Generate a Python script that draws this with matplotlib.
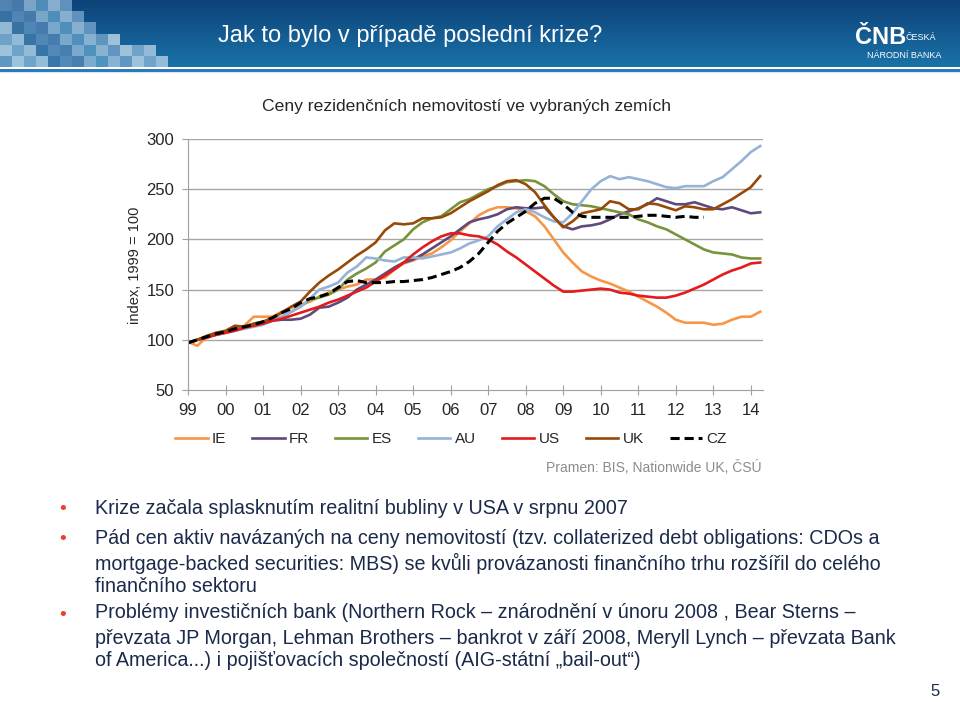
import numpy as np
import matplotlib
matplotlib.use("Agg")
import matplotlib.pyplot as plt
from matplotlib.patches import Rectangle
from matplotlib.colors import LinearSegmentedColormap

plt.rcParams['font.family'] = ['Liberation Sans', 'DejaVu Sans']

# quarterly house price indices, 1999Q1 = first point, 1999 = 100
year_labels = ["99", "00", "01", "02", "03", "04", "05", "06", "07",
               "08", "09", "10", "11", "12", "13", "14"]

ie = [98, 94, 103, 107, 108, 112, 114, 123, 123, 123, 128, 132,
      135, 138, 143, 147, 150, 153, 155, 160, 160, 162, 170, 176,
      179, 183, 186, 192, 199, 208, 216, 224, 229, 232, 232, 231,
      228, 223, 213, 200, 187, 177, 168, 163, 159, 156, 152, 148,
      143, 138, 133, 127, 120, 117, 117, 117, 115, 116, 120, 123,
      123, 128]
fr = [97, 100, 103, 105, 107, 110, 112, 115, 117, 119, 120, 120,
      121, 125, 132, 133, 137, 142, 150, 155, 160, 166, 172, 177,
      180, 185, 191, 197, 203, 210, 217, 220, 222, 225, 230, 232,
      231, 231, 232, 222, 213, 210, 213, 214, 216, 220, 225, 228,
      231, 235, 241, 238, 235, 235, 237, 234, 231, 230, 232, 229,
      226, 227]
es = [97, 100, 103, 106, 108, 111, 113, 116, 118, 120, 123, 128,
      133, 140, 142, 145, 150, 160, 166, 171, 177, 188, 194, 200,
      210, 217, 221, 223, 230, 237, 240, 245, 250, 253, 257, 258,
      259, 258, 253, 245, 238, 235, 234, 233, 231, 229, 227, 225,
      220, 217, 213, 210, 205, 200, 195, 190, 187, 186, 185, 182,
      181, 181]
au = [97, 100, 103, 105, 107, 109, 111, 113, 115, 119, 123, 128,
      133, 141, 150, 153, 157, 167, 173, 182, 181, 179, 178, 182,
      182, 181, 183, 185, 187, 191, 196, 199, 203, 213, 220, 227,
      230, 227, 222, 218, 217, 226, 238, 250, 258, 263, 260, 262,
      260, 258, 255, 252, 251, 253, 253, 253, 258, 262, 270, 278,
      287, 293]
us = [97, 100, 102, 105, 107, 109, 112, 114, 116, 119, 121, 124,
      127, 130, 133, 137, 140, 144, 148, 152, 158, 164, 170, 177,
      185, 192, 198, 203, 206, 206, 204, 203, 200, 195, 188, 182,
      175, 168, 161, 154, 148, 148, 149, 150, 151, 150, 147, 146,
      144, 143, 142, 142, 144, 147, 151, 155, 160, 165, 169, 172,
      176, 177]
uk = [97, 100, 104, 107, 109, 114, 113, 116, 118, 122, 127, 133,
      138, 148, 157, 164, 170, 177, 184, 190, 197, 209, 216, 215,
      216, 221, 221, 222, 226, 232, 238, 243, 248, 254, 258, 259,
      255, 247, 234, 222, 212, 218, 226, 228, 230, 238, 236, 230,
      230, 236, 235, 232, 229, 233, 232, 230, 230, 235, 240, 246,
      252, 263]
cz = [97, 100, 103, 106, 108, 111, 113, 115, 118, 122, 127, 131,
      137, 141, 143, 146, 152, 158, 159, 157, 157, 157, 158, 158,
      159, 160, 162, 165, 168, 172, 178, 186, 197, 208, 216, 222,
      228, 236, 241, 241, 235, 227, 223, 222, 222, 222, 222, 222,
      223, 224, 224, 223, 222, 223, 222, 222]

series = [("IE", ie, "#F79646", "-"), ("FR", fr, "#5F497A", "-"),
          ("ES", es, "#77933C", "-"), ("AU", au, "#95B3D7", "-"),
          ("US", us, "#E41A1C", "-"), ("UK", uk, "#984807", "-"),
          ("CZ", cz, "black", "--")]

bullets = [
    ["Krize začala splasknutím realitní bubliny v USA v srpnu 2007"],
    ["Pád cen aktiv navázaných na ceny nemovitostí (tzv. collaterized debt obligations: CDOs a",
     "mortgage-backed securities: MBS) se kvůli provázanosti finančního trhu rozšířil do celého",
     "finančního sektoru"],
    ["Problémy investičních bank (Northern Rock – znárodnění v únoru 2008 , Bear Sterns –",
     "převzata JP Morgan, Lehman Brothers – bankrot v září 2008, Meryll Lynch – převzata Bank",
     "of America...) i pojišťovacích společností (AIG-státní „bail-out“)"],
]

fig = plt.figure(figsize=(9.6, 7.02), dpi=100)

# background layer in pixel coordinates
bg = fig.add_axes([0, 0, 1, 1], zorder=0)
cmap = LinearSegmentedColormap.from_list("banner", ["#0D4379", "#1A72A8"])
grad = np.linspace(0, 1, 100).reshape(-1, 1)
bg.imshow(grad, extent=(0, 960, 67, 0), cmap=cmap, aspect="auto")

# pixel mosaic at top left
mosaic_cols = ["#5C8FBD", "#7FAED2", "#9CC0DC", "#4F83B3", "#A9CBE2",
               "#6E9FC8", "#8DB6D6", "#3F78AA", "#B5D3E6", "#5A9AC4"]
row_cells = [6, 7, 8, 10, 13, 14]
for r, n in enumerate(row_cells):
    for c in range(n):
        col = mosaic_cols[(r * 7 + c * 3) % len(mosaic_cols)]
        bg.add_patch(Rectangle((c * 12, r * 11.2), 12, 11.2, color=col, lw=0, alpha=0.85))

bg.add_patch(Rectangle((0, 69), 960, 2.8, color="#2B7BB9", lw=0))
bg.add_patch(Rectangle((0, 72), 960, 1.2, color="#D6E6F2", lw=0))

bg.text(218, 36, "Jak to bylo v případě poslední krize?", color="white",
        fontsize=17, va="center", ha="left")
bg.text(855, 44, "ČNB", color="white", fontsize=17, fontweight="bold", va="baseline")
bg.text(905, 40, "ČESKÁ", color="white", fontsize=6.5, va="baseline")
bg.text(867, 58, "NÁRODNÍ BANKA", color="white", fontsize=6.5, va="baseline")

bg.text(467, 106, "Ceny rezidenčních nemovitostí ve vybraných zemích",
        ha="center", va="center", fontsize=12.6, color="#262626")
bg.text(135, 265, "index, 1999 = 100", rotation=90, ha="center", va="center",
        fontsize=10.5, color="#262626")
bg.text(762, 467, "Pramen: BIS, Nationwide UK, ČSÚ", ha="right", va="center",
        fontsize=10, color="#8C8C8C")

line_y = [[508], [538, 563, 587], [613, 638, 661]]
for para, ys in zip(bullets, line_y):
    bg.text(63, ys[0] + 2, "•", color="#E8412C", fontsize=14, ha="center", va="center")
    for txt, y in zip(para, ys):
        bg.text(95, y, txt, color="#1B2A4A", fontsize=14.2, ha="left", va="center")
bg.text(935, 692, "5", color="#1B2A4A", fontsize=12, ha="center", va="center")

bg.set_xlim(0, 960)
bg.set_ylim(702, 0)
bg.axis("off")

# chart
ax = fig.add_axes([188 / 960, 1 - 390 / 702, (763 - 188) / 960, (390 - 139) / 702], zorder=1)
ax.patch.set_alpha(0)
for name, vals, color, ls in series:
    lw = 2.2 if name == "CZ" else 1.9
    ax.plot(np.arange(len(vals)), vals, color=color, ls=ls, lw=lw, label=name,
            dashes=(3, 1.6) if ls == "--" else (None, None))

ax.set_xlim(0, 61.3)
ax.set_ylim(50, 300)
ax.set_yticks(range(50, 301, 50))
ax.set_xticks(range(0, 61, 4))
ax.set_xticklabels(year_labels)
for yv in range(100, 301, 50):
    ax.axhline(yv, color="#A6A6A6", lw=1, zorder=0)
for s in ["top", "right"]:
    ax.spines[s].set_visible(False)
for s in ["left", "bottom"]:
    ax.spines[s].set_color("#A0A0A0")
ax.tick_params(axis="y", length=4, color="#A0A0A0", labelsize=12, labelcolor="#262626", pad=6)
ax.tick_params(axis="x", direction="inout", length=7, color="#A0A0A0", labelsize=12,
               labelcolor="#262626", pad=6)

fig.legend(loc="center", bbox_to_anchor=(451 / 960, 1 - 439 / 702), ncol=7,
           frameon=False, fontsize=11, handlelength=2.1, handletextpad=0.3,
           columnspacing=1.7, labelcolor="#262626")

fig.savefig("out.png", dpi=100)
